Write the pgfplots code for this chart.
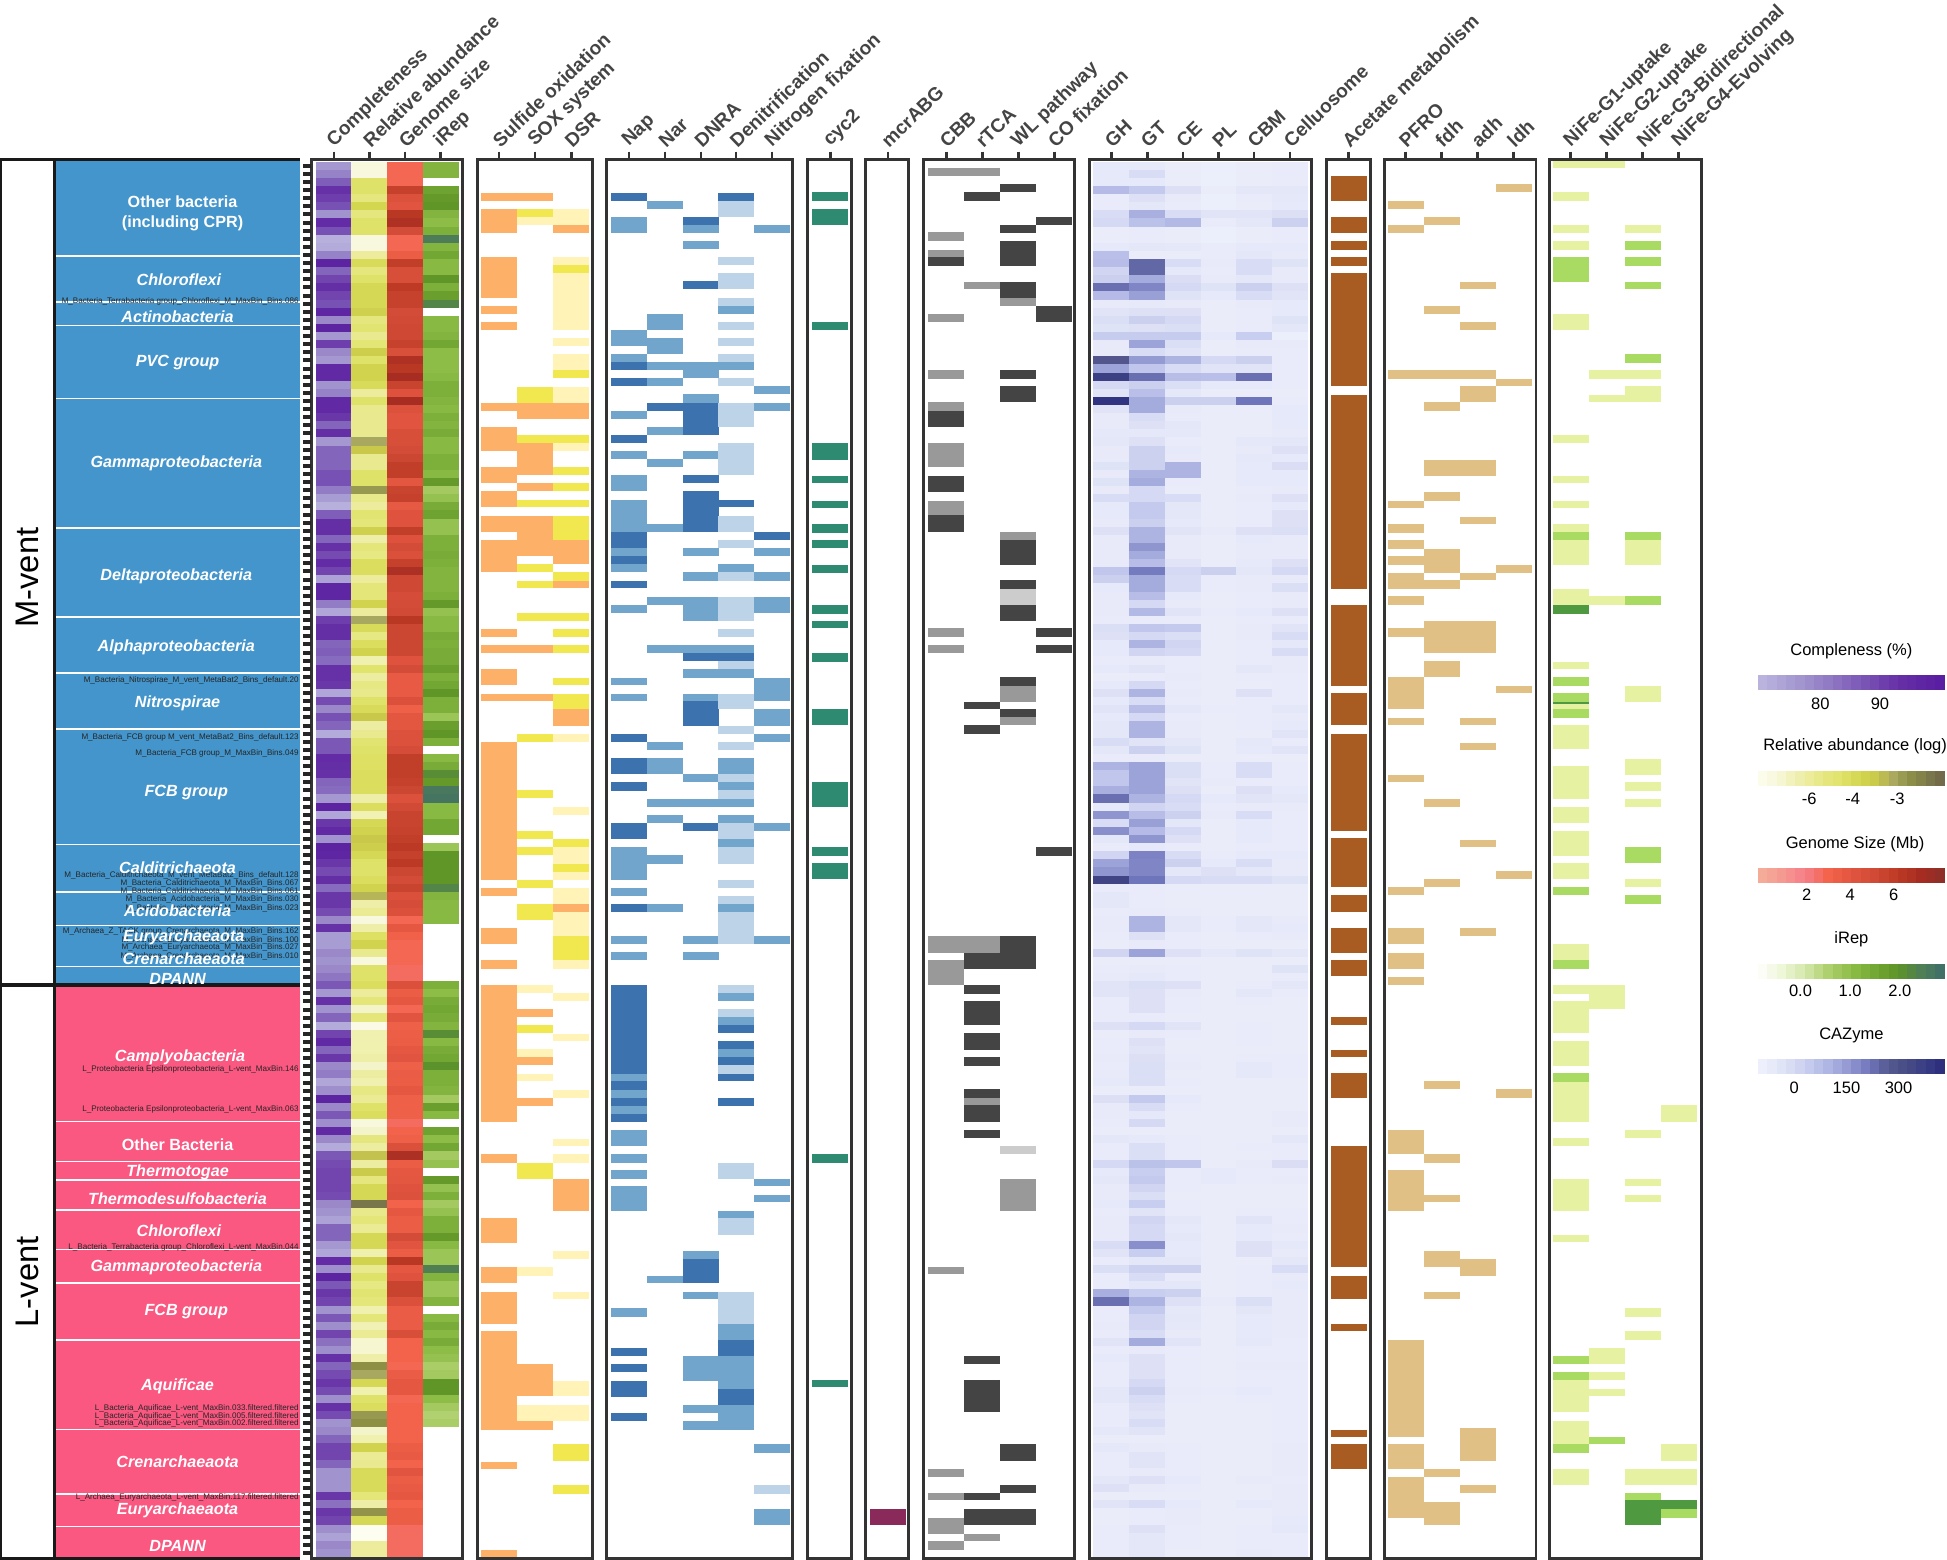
\documentclass[border=0pt]{standalone}
\usepackage{fontspec}
\setmainfont{Liberation Sans}
\usepackage{pgfplots}
\usepackage{pgfplotstable}
\pgfplotsset{compat=1.18}

% colours of the sparse columns
\definecolor{sor}{HTML}{FDB068}\definecolor{syl}{HTML}{F0E84E}\definecolor{spl}{HTML}{FFF3B8}
\definecolor{nd}{HTML}{3C72AE}\definecolor{nm}{HTML}{72A5CB}\definecolor{np}{HTML}{BDD3E7}
\definecolor{cyc}{HTML}{2F8A72}\definecolor{mcr}{HTML}{8A2A5A}
\definecolor{cd}{HTML}{444444}\definecolor{cm}{HTML}{999999}\definecolor{cp}{HTML}{CCCCCC}
\definecolor{ace}{HTML}{A85C22}\definecolor{tan}{HTML}{E0C085}
\definecolor{hl}{HTML}{E6F2A2}\definecolor{hm}{HTML}{A9DA62}\definecolor{hd}{HTML}{4F9A40}
\definecolor{mblue}{HTML}{4495CB}\definecolor{lpink}{HTML}{FA5781}
\definecolor{frame}{HTML}{333333}\definecolor{htxt}{HTML}{444444}

% heat map cells
\pgfdeclareplotmark{cell}{\pgfpathrectanglecorners{\pgfpoint{-\pgfplotmarksize}{-0.0415cm}}{\pgfpoint{\pgfplotmarksize}{0.0415cm}}\pgfusepathqfill}
\pgfdeclareplotmark{barcell}{\pgfpathrectanglecorners{\pgfpoint{-\pgfplotmarksize}{-0.075cm}}{\pgfpoint{\pgfplotmarksize}{0.075cm}}\pgfusepathqfill}
\pgfdeclareplotmark{rowtick}{\pgfpathrectanglecorners{\pgfpoint{-0.04cm}{-0.02cm}}{\pgfpoint{0.04cm}{0.02cm}}\pgfusepathqfill}

\pgfplotsset{
  colormap={cmC}{rgb255=(188,183,224) rgb255=(160,146,205) rgb255=(130,99,187) rgb255=(102,48,166) rgb255=(88,28,160)},
  colormap={cmA}{rgb255=(253,253,240) rgb255=(248,248,223) rgb255=(242,242,188) rgb255=(236,236,156) rgb255=(229,231,126) rgb255=(223,226,104) rgb255=(211,214,79) rgb255=(201,200,74) rgb255=(169,168,96) rgb255=(141,143,69) rgb255=(125,122,76) rgb255=(110,100,72)},
  colormap={cmG}{rgb255=(244,176,154) rgb255=(245,154,144) rgb255=(245,128,138) rgb255=(244,100,76) rgb255=(226,85,63) rgb255=(208,74,53) rgb255=(189,58,37) rgb255=(166,44,34) rgb255=(138,47,42)},
  colormap={cmI}{rgb255=(255,255,255) rgb255=(238,247,216) rgb255=(213,232,172) rgb255=(175,208,110) rgb255=(141,189,71) rgb255=(116,168,52) rgb255=(94,148,39) rgb255=(79,127,85) rgb255=(61,109,106)},
  colormap={cmZ}{rgb255=(240,242,253) rgb255=(228,231,248) rgb255=(213,217,243) rgb255=(192,198,236) rgb255=(169,176,224) rgb255=(143,149,207) rgb255=(111,117,187) rgb255=(84,89,143) rgb255=(72,76,133) rgb255=(56,60,132) rgb255=(42,44,124)},
  seg/.style={forget plot,draw=none,mark=none,error bars/y dir=plus,error bars/y explicit,error bars/error mark=none,error bars/error bar style={line width=.36cm,draw=#1,solid}},
}

% one row per genome: C completeness, A log abundance, G genome size, I iRep (-0.9 = none),
% then the six CAZyme classes as colour levels 0-100
\pgfplotstableread{
C A G I H T E P B L
76 -7 3 1.2 8 8 5 4 5 6
80 -7 3 1.2 8 18 5 4 5 6
86 -5 3 -0.9 8 8 5 4 5 6
93 -5 5.8 1.6 35 28 15 5 10 10
91 -5.5 4.5 1.8 6 14 7 4 6 9
88 -4.5 4.2 1.9 6 10 6 4 5 8
77 -5.5 6.4 1.2 18 40 18 12 12 15
95 -5 6.9 1 20 32 36 6 10 24
88 -5 5 1.3 5 6 5 4 5 6
71 -7 3 2.5 5 6 5 4 5 6
72 -7 3 1.2 8 10 9 6 8 8
80 -6 3.6 1.5 33 5 5 6 10 7
98 -4.7 6 1.1 34 65 18 7 18 13
85 -5.5 4.8 1.1 22 65 9 6 18 7
90 -5 4.8 1.9 25 42 17 7 10 7
94 -4.6 6.2 1.3 62 55 20 13 25 14
90 -4.6 5.7 1.7 35 46 13 8 18 12
88 -4.6 5.7 2.3 7 8 7 5 7 8
97 -4.3 5 -0.9 12 14 14 5 6 8
79 -5.5 5.2 1.1 16 25 20 5 6 13
98 -5.2 5.3 1.1 13 14 16 5 6 10
76 -5.8 5.3 1.2 27 27 27 8 26 4
91 -5.3 5.7 1.5 7 45 16 5 7 7
79 -4.2 4.7 1 7 18 12 5 6 6
76 -5 6.9 1 72 48 38 20 25 6
96 -4.4 6.4 1 45 30 18 12 12 6
96 -4.4 7.2 1.1 88 62 34 33 62 6
77 -4.7 5.6 1.3 20 25 16 8 8 6
80 -6 4.4 1.3 12 33 9 5 5 5
96 -5 7.2 1.2 95 42 25 25 60 6
96 -5.8 4.5 1.1 12 42 7 5 5 8
92 -5.8 4.2 1.3 7 18 6 5 5 8
85 -5.8 4.2 1.2 7 14 10 5 5 8
94 -5.8 4.8 1.4 9 9 9 5 5 7
76 -3.5 4.8 1.1 10 14 6 5 9 10
85 -4 5 1.1 7 24 8 5 7 14
85 -5.8 5.4 1.3 7 24 7 5 9 8
85 -5.8 6 1.3 13 24 38 5 8 17
88 -5 6 1.1 7 38 38 5 8 8
88 -5 4.1 1.8 13 42 6 5 8 8
81 -3.2 5.6 0.7 7 20 5 5 6 7
75 -5.7 5.8 0.9 18 20 18 5 7 14
71 -6 3.9 1.4 8 28 10 5 6 8
86 -5.2 4.3 1.6 8 28 10 5 6 14
94 -5.4 4.3 0.9 7 25 8 5 6 14
94 -4.3 6 0.9 14 38 12 7 14 16
85 -6.2 4.4 1.3 7 38 7 5 8 7
93 -5.4 5 1.3 7 50 7 5 7 7
89 -5.6 4.6 1.4 7 42 7 5 7 7
95 -4.8 5.8 1.3 7 34 12 5 8 14
90 -4.8 7 1.2 30 58 20 25 10 20
74 -6 5.3 1.2 25 42 18 6 7 7
97 -5.4 5.3 1.2 8 42 18 6 7 16
97 -5.4 4.9 1.3 7 34 8 5 6 7
81 -4.4 5 1.8 7 20 7 5 6 7
73 -6 5.2 0.9 7 36 12 6 8 14
91 -3.5 6.4 1.1 6 6 6 5 6 6
94 -4.7 5.4 1.1 16 30 28 5 7 12
94 -5.6 5.4 1.4 14 20 16 5 7 18
85 -4.8 5.4 1.3 8 38 22 5 6 9
86 -4.4 5.4 1.4 8 22 20 5 6 18
84 -6.3 4.3 1.4 6 7 6 5 6 7
93 -5.1 5 1.7 8 12 6 5 10 7
93 -6.1 3.8 1.3 5 6 7 5 6 6
92 -5.6 3.8 1.5 8 20 6 5 5 6
73 -5.7 3.8 1.9 14 38 7 5 14 6
89 -5 4.6 1.3 8 18 6 5 6 6
79 -4.7 3.4 1.3 12 34 10 6 6 10
88 -4 4.1 0.8 8 20 6 5 6 7
85 -6.1 4.1 1.7 10 38 7 5 6 8
72 -5.8 4.5 1.9 10 38 7 5 5 12
87 -5.2 4.5 1.3 18 12 10 5 9 6
87 -5 4.9 -0.9 10 24 13 5 8 12
95 -4.9 6 1.1 6 6 5 5 5 5
94 -4.9 6 1.4 38 45 16 6 18 6
93 -4.8 6 2.1 30 45 16 6 18 6
85 -4.8 5.8 1.8 30 45 12 7 6 6
84 -4.8 5.4 2.6 40 45 15 5 15 8
76 -6.2 4.5 2.7 62 38 20 8 12 10
98 -4.8 5.2 1.1 8 22 18 6 7 7
73 -6.4 5.6 1.1 50 34 24 7 18 6
92 -4.6 5.6 1.5 18 46 10 5 8 6
96 -4.4 5.7 1.5 52 35 20 5 8 6
77 -4 6 -0.9 10 50 14 5 8 6
98 -4.2 6.3 0.8 6 8 6 5 6 6
97 -4.6 5.8 1.9 22 56 18 6 8 8
92 -5 6.3 1.9 45 55 24 8 18 7
89 -5 5.4 1.9 50 55 10 14 10 7
94 -4.8 5 1.9 85 60 20 18 18 13
84 -4.4 5.6 2.3 6 6 5 5 5 5
92 -3.7 4.6 1.2 10 6 5 5 5 5
92 -6.2 4.9 1.1 10 6 5 5 5 5
89 -5.9 4.6 1.1 6 7 6 5 5 5
79 -7 3 1.1 7 38 10 6 10 7
93 -6.2 4 -0.9 7 38 10 6 10 8
75 -4.9 3.3 -0.9 6 14 6 5 6 7
75 -4.4 3 -0.9 5 7 6 5 5 5
79 -5.8 3 -0.9 22 45 14 9 13 10
77 -7 3 -0.9 5 5 5 5 5 5
79 -5 2.8 -0.9 6 7 6 5 5 13
82 -5 2.8 -0.9 7 9 6 5 5 6
87 -4.8 4.6 1.3 12 16 14 5 6 10
76 -6 3.6 1 12 14 7 5 10 6
93 -5.4 4 1.4 6 14 6 5 6 5
77 -6.7 3 1.5 6 14 6 5 5 5
85 -5.4 4.2 1.4 6 6 5 5 5 5
72 -7.2 3.4 1.2 14 20 12 5 6 5
90 -6.3 3.5 2.1 5 7 6 5 6 5
96 -6.3 3.6 1.1 6 14 5 5 6 5
85 -6.3 4 1.4 6 12 5 5 5 5
92 -6.2 4.2 1.5 7 15 6 5 6 6
79 -6.7 3.4 2 6 16 7 5 9 6
81 -6.1 3.7 1.3 7 16 5 5 9 6
73 -6.3 3.6 1.3 8 16 6 5 5 5
78 -5.6 4 1.2 5 5 5 5 5 5
98 -5.9 3.4 0.7 15 28 8 5 5 5
79 -5 3.4 1.7 7 18 6 5 5 5
87 -4.8 3.4 1.1 7 9 5 5 5 7
78 -7 2.8 -0.9 6 20 5 5 5 7
96 -6.7 3.2 1.6 5 5 5 5 5 5
79 -5.5 3.4 1 10 8 6 5 5 10
72 -6.1 4.6 1.5 6 16 6 5 6 6
87 -3.9 7 0.7 6 16 6 5 5 6
89 -6.1 3.6 0.9 20 32 30 5 7 17
90 -4.1 4 -0.9 8 26 6 8 6 6
90 -5.5 4.1 1.8 10 28 6 8 6 7
90 -4.6 4.3 0.9 7 22 6 5 5 5
89 -4.6 4.5 1.3 7 16 5 5 5 5
79 -2.4 3.2 0.7 8 26 6 5 5 5
77 -5.7 4 0.9 6 12 6 5 6 6
74 -5.4 3.6 1.3 7 22 10 5 12 6
85 -5.9 3.6 1.3 7 20 8 5 8 7
85 -4.6 5 1.8 7 20 10 5 8 6
76 -4.6 4.2 1.1 18 52 8 5 14 9
73 -6.3 3.6 0.8 12 26 8 5 14 7
95 -4.4 6.4 0.8 6 10 10 5 5 10
78 -5.8 4 2.4 16 24 24 5 6 18
98 -5 4.3 1.2 6 18 6 5 6 7
87 -5.6 5.6 0.8 6 10 10 5 6 8
92 -5.2 5.6 0.8 40 26 24 5 6 7
90 -5.4 4.6 1.2 62 38 14 7 16 7
77 -6.3 3.7 -0.9 6 28 9 5 11 7
87 -5.4 3.7 1.1 6 22 10 5 8 7
78 -6.4 3.7 1.4 7 22 9 5 8 7
90 -5.9 4.8 1.1 6 18 7 5 8 7
83 -6.8 3.2 1.4 12 42 12 5 9 6
78 -6.8 3.2 1 6 7 6 5 6 6
93 -6.2 3.2 0.9 8 14 6 5 6 6
85 -3 3 0.6 6 14 6 5 7 7
89 -3.5 3.7 0.7 6 14 6 5 6 6
92 -4.6 4 1.9 6 20 6 5 6 6
89 -6.3 4 1.9 10 24 7 6 8 6
78 -5 3 1 10 18 6 5 6 6
93 -4.8 3.2 0.7 6 14 5 5 5 6
89 -3.2 3.2 0.5 6 12 5 5 5 6
77 -3 3.2 0.6 6 18 5 5 5 6
79 -6.7 3.2 -0.9 9 12 5 5 5 6
85 -6.3 3.2 -0.9 5 5 5 5 5 6
90 -4.4 3.6 -0.9 9 7 6 5 5 7
90 -5.9 3.8 -0.9 6 12 6 5 5 7
85 -5.8 3.2 -0.9 6 12 6 5 5 7
77 -4.7 4.2 -0.9 6 7 6 5 5 7
77 -4.7 3.6 -0.9 10 14 8 5 7 6
77 -4.7 3.8 -0.9 14 7 6 5 5 7
92 -5.4 4 -0.9 5 5 5 5 5 7
83 -6.2 3.2 -0.9 12 18 8 5 8 7
92 -3.1 3.6 -0.9 5 6 7 5 5 7
90 -4.6 3.6 -0.9 5 6 7 5 5 8
78 -7.5 2.8 -0.9 6 14 6 5 6 9
74 -7.5 2.8 -0.9 6 10 6 5 6 6
79 -6 2.8 -0.9 6 10 6 5 6 6
77 -6 2.8 -0.9 6 10 5 5 7 6
}\dat

\pgfplotstableread{
p x
0.025 1419.75
0.075 1427.25
0.125 1434.75
0.175 1442.25
0.225 1449.75
0.275 1457.25
0.325 1464.75
0.375 1472.25
0.425 1479.75
0.475 1487.25
0.525 1494.75
0.575 1502.25
0.625 1509.75
0.675 1517.25
0.725 1524.75
0.775 1532.25
0.825 1539.75
0.875 1547.25
0.925 1554.75
0.975 1562.25
}\barscale

% #1 x, #2 half width, #3 column, #4 colormap, #5 low end, #6 range
\newcommand\dense[6]{\addplot[forget plot,scatter,only marks,mark=cell,mark size=#2,colormap name=#4,point meta={(\thisrow{#3}-(#5))/(#6)}] table[x expr=#1,y expr=130.2+6.532*(\coordindex+0.5)] {\dat};}
% #1 x, #2 colour, #3 y intervals
\newcommand\seg[3]{\addplot[seg=#2] table[row sep=\\,x expr=#1,y=a,y error expr=\thisrow{b}-\thisrow{a}]{a b\\#3\\};}
% colour scale: #1 y, #2 colormap
\newcommand\cbar[2]{\addplot[forget plot,scatter,only marks,mark=barcell,mark size=0.048cm,colormap name=#2,point meta=\thisrow{p}] table[x=x,y expr=#1] {\barscale};}
% column header: tick and rotated name
\newcommand\hd[2]{\draw[frame,line width=.75pt] (axis cs:#1,122) -- (axis cs:#1,128);
  \node[rotate=44,anchor=west,inner sep=0pt,text=htxt,font=\fontsize{5.45}{6}\selectfont\bfseries] at (axis cs:#1-3,116) {#2};}
\newcommand\grp[3]{\node[text=white,font=\fontsize{4.6}{5}\selectfont\bfseries\itshape] at (axis cs:#1,#2+1) {#3};}
\newcommand\grpn[3]{\node[text=white,font=\fontsize{4.6}{5.6}\selectfont\bfseries,align=center] at (axis cs:#1,#2+1) {#3};}
\newcommand\bin[2]{\node[anchor=east,inner sep=0pt,text=black!85,font=\fontsize{2.3}{2.6}\selectfont] at (axis cs:241,#1) {#2};}
\newcommand\panel[2]{\draw[frame,line width=.85pt] (axis cs:#1,128.5) rectangle (axis cs:#2,1254.5);}
\newcommand\lt[3]{\node[font=\fontsize{4.7}{5}\selectfont] at (axis cs:#1,#2+1.5) {#3};}

\begin{document}
\begin{tikzpicture}
\begin{axis}[
  scale only axis,width=19.47cm,height=15.6cm,
  xmin=0,xmax=1568,ymin=0,ymax=1256,y dir=reverse,
  hide axis,clip=false,
  point meta min=0,point meta max=1,
]
% side strips
\addplot[forget plot,fill=mblue,draw=none] coordinates {(45,128)(242,128)(242,793)(45,793)} -- cycle;
\addplot[forget plot,fill=lpink,draw=none] coordinates {(45,793)(242,793)(242,1254)(45,1254)} -- cycle;
% group separators
\addplot[forget plot,white,line width=.45pt,unbounded coords=jump] table[row sep=\\,x=x,y=y]{x y\\
45 206\\242 206\\nan nan\\45 243\\242 243\\nan nan\\45 262\\242 262\\nan nan\\45 321\\242 321\\nan nan\\45 425\\242 425\\nan nan\\45 497\\242 497\\nan nan\\45 542\\242 542\\nan nan\\45 587\\242 587\\nan nan\\45 680\\242 680\\nan nan\\45 718\\242 718\\nan nan\\45 745\\242 745\\nan nan\\45 778\\242 778\\nan nan\\
45 903\\242 903\\nan nan\\45 935\\242 935\\nan nan\\45 950\\242 950\\nan nan\\45 974\\242 974\\nan nan\\45 1006\\242 1006\\nan nan\\45 1033\\242 1033\\nan nan\\45 1079\\242 1079\\nan nan\\45 1151\\242 1151\\nan nan\\45 1203\\242 1203\\nan nan\\45 1229\\242 1229\\};
% row ticks
\addplot[forget plot,only marks,mark=rowtick,black!85,mark options={fill=black!85}] table[x expr=247,y expr=130.2+6.532*(\coordindex+0.5)] {\dat};

% dense columns
\dense{269}{.181cm}{C}{cmC}{69.5}{31.5}
\dense{297.6}{.181cm}{A}{cmA}{-7.5}{5.5}
\dense{326.2}{.181cm}{G}{cmG}{0}{8.3}
\dense{355}{.181cm}{I}{cmI}{-0.9}{3.8}
\dense{895}{.181cm}{H}{cmZ}{0}{100}
\dense{924}{.181cm}{T}{cmZ}{0}{100}
\dense{952.6}{.181cm}{E}{cmZ}{0}{100}
\dense{981.5}{.181cm}{P}{cmZ}{0}{100}
\dense{1010}{.181cm}{B}{cmZ}{0}{100}
\dense{1039}{.181cm}{L}{cmZ}{0}{100}

% sulfur
\seg{402}{sor}{155.2 161.6\\168 187.4\\207.2 239.7\\246.2 252.6\\259 265.5\\324.5 330.7\\343.9 363.2\\376.4 389.2\\395.7 408.6\\415.3 428.2\\434.9 460.7\\506.6 512.7\\519.3 525.6\\539 551.6\\558.4 564.8\\597.3 708.2\\714.9 721.3\\747.3 760.2\\773.1 779.8\\793 903.3\\929 936\\981 1001\\1020 1033\\1040 1066\\1072 1151\\1177 1183\\1248 1254}
\seg{431}{sor}{155.2 161.6\\324.3 337.2\\356.8 382.8\\389.2 395.7\\415.3 447.8\\519.3 525.6\\558.4 564.8\\812.3 818.7\\851.2 857.7\\884 890.4\\1098 1124\\1144 1151}
\seg{431}{syl}{168 174.5\\311.4 324.3\\350.3 356.8\\402.4 408.6\\454.2 460.7\\467.6 473.8\\493.4 499.9\\590.8 597.3\\636.2 642.9\\669 675.4\\681.8 688.6\\708.2 714.6\\727.5 740.9\\825.2 831.6\\936 949}
\seg{431}{spl}{174.5 181\\793 799.4\\844.8 851.2\\864.4 870.5\\1020 1027\\1131 1144}
\seg{460}{sor}{181 187.4\\324.3 337.2\\434.9 454.2\\467.4 473.8\\571.2 584.4\\727.5 734.2\\949 975}
\seg{460}{syl}{213.7 220.1\\298 304.7\\350.3 356.8\\376.4 382.8\\389.2 395.7\\402.4 408.6\\415.3 434.9\\460.7 467.4\\493.4 499.9\\506.6 512.7\\519.3 525.6\\545.5 551.6\\558.4 571.2\\675.4 681.8\\695.3 702\\753.8 773.1\\1163 1176\\1196 1203}
\seg{460}{spl}{168 181\\207.2 213.7\\220.1 265.5\\272.2 278.6\\285.1 298\\311.4 324.3\\356.8 363.2\\590.8 597.3\\649.6 656\\681.8 695.3\\702 708.2\\714.9 727.5\\734.2 753.8\\773.1 779.8\\799.4 805.9\\832.2 838.3\\877.8 884\\916.7 923\\929 936\\1007 1014\\1040 1046\\1112 1124\\1131 1144}
% nitrogen
\seg{506.6}{nd}{155.2 161.6\\291.5 298\\304.7 311.1\\350.3 356.8\\428.2 441.3\\447.8 454.2\\467.4 473.8\\590.8 597.3\\610.4 623.3\\630 636.5\\662.5 675.4\\727.5 734.2\\793 864.4\\870.5 877.8\\884 890.4\\896.6 903.3\\1085 1092\\1098 1105\\1112 1125\\1138 1144}
\seg{506.6}{nm}{174.5 187.4\\265.8 278.6\\285.1 291.5\\330.7 337.2\\363.2 369.7\\382.8 395.7\\402.4 428.2\\441.3 447.8\\454.2 460.7\\487 493.4\\545.5 551.6\\558.4 564.8\\681.8 708.2\\714.9 721.3\\753.8 760.2\\766.7 773.1\\864.4 870.5\\877.8 884\\890.4 896.6\\910 923\\929 936\\942 949\\955 975\\1053 1060}
\seg{535.6}{nd}{324.3 330.7}
\seg{535.6}{nm}{161.6 168\\252.6 265.5\\272.2 285.1\\291.5 298\\304.7 311.1\\343.9 350.3\\369.7 376.1\\421.7 428.2\\480.5 487\\519.2 525.6\\597.3 604\\610.4 623.3\\643 649.4\\656 662.5\\688.6 695.3\\727.5 734.2\\1027 1033}
\seg{564.5}{nd}{174.5 181\\226.6 233\\324.3 350.3\\382.8 389.2\\395.7 428.2\\525.6 532\\564.8 584.4\\662.5 669\\1014 1033}
\seg{564.5}{nm}{181 187.4\\194.1 200.5\\291.5 304.7\\317.6 324.3\\363.2 369.7\\441.3 447.8\\460.7 467.4\\480.5 499.9\\519.2 525.6\\539 545.5\\558.4 564.8\\623.3 629.8\\643 649.4\\753.8 760.2\\766.7 773.1\\1007 1014\\1040 1046\\1092 1112\\1131 1138\\1144 1151}
\seg{592.8}{nd}{155.2 161.6\\402.4 408.6\\525.6 532\\825.2 831.6\\838.3 844.8\\851.2 857.7\\864.4 870.5\\884 890.4\\1079 1092\\1118 1131}
\seg{592.8}{nm}{246.2 252.6\\291.5 298\\454.2 460.7\\519.2 525.6\\539 545.5\\610.4 623.3\\629.8 636.2\\643 649.4\\656 662.5\\675.4 681.8\\727.5 734.2\\799.4 805.9\\818.7 825.2\\844.8 851.2\\975 981\\1066 1079\\1092 1118\\1131 1151}
\seg{592.8}{np}{161.6 174.5\\207.2 213.7\\220.1 233\\239.7 246.2\\259 265.5\\272.2 278.6\\285.1 291.5\\304.7 311.1\\324.3 343.6\\356.8 382.8\\415.3 428.2\\434.9 441.3\\460.7 467.4\\480.5 499.9\\506.6 512.7\\532 539\\558.4 571.2\\584.4 590.8\\597.3 604\\623.3 629.8\\636.2 643\\662.5 675.4\\681.8 695.3\\708.2 714.6\\721.3 727.5\\734.2 760.2\\793 799.4\\812.3 818.7\\857.7 864.4\\936 949\\981 994\\1040 1066}
\seg{621.7}{nd}{428.2 434.9}
\seg{621.7}{nm}{181 187.4\\311.1 317.6\\324.3 330.7\\441.3 447.8\\460.7 467.4\\480.5 493.4\\545.5 564.8\\571.2 584.4\\590.8 597.3\\662.5 669\\753.8 760.2\\949 955\\962 968\\1163 1170\\1215 1228}
\seg{621.7}{np}{1196 1203}
% cyc2, mcrABG
\seg{668.6}{cyc}{155 162\\168 181\\259 266\\357 370\\383 389\\403 409\\422 429\\435 441\\455 461\\487 494\\500 506\\526 533\\571 584\\630 650\\682 689\\695 708\\929 936\\1111 1117}
\seg{715}{mcr}{1215 1228}
% carbon fixation
\seg{762}{cm}{135 142\\187 194\\201 207\\253 259\\298 305\\324 331\\357 376\\403 415\\506 513\\519 526\\754 767\\773 793\\1020 1026\\1183 1189\\1202 1208\\1222 1235\\1241 1248}
\seg{762}{cd}{207 214\\331 344\\383 396\\415 428}
\seg{791}{cm}{135 142\\227 233\\754 767\\884 890\\1235 1241}
\seg{791}{cd}{155 162\\565 571\\584 591\\767 780\\793 800\\806 825\\832 845\\851 858\\877 884\\890 903\\910 916\\1092 1098\\1111 1137\\1202 1208\\1215 1228}
\seg{820}{cd}{148 155\\181 188\\194 214\\227 240\\298 305\\311 324\\435 455\\467 474\\487 500\\545 552\\571 577\\754 780\\1163 1176\\1196 1202\\1215 1228}
\seg{820}{cm}{240 246\\428 435\\552 565\\577 584\\949 975}
\seg{820}{cp}{474 487\\923 929}
\seg{849}{cd}{175 181\\246 259\\506 513\\519 526\\682 689}
% acetate
\seg{1086}{ace}{142 162\\175 188\\194 201\\207 214\\220 311\\318 474\\487 552\\558 584\\591 669\\675 714\\721 734\\747 767\\773 786\\819 825\\845 851\\864 884\\923 1020\\1027 1046\\1066 1072\\1151 1157\\1163 1183}
% energy
\seg{1132}{tan}{162 168\\181 188\\298 305\\403 409\\422 429\\435 442\\448 455\\461 474\\480 487\\506 513\\545 571\\578 584\\624 630\\714 721\\747 760\\767 780\\787 793\\910 929\\942 975\\1079 1157\\1163 1183\\1189 1222}
\seg{1161}{tan}{175 181\\246 253\\298 305\\324 331\\370 383\\396 403\\442 461\\467 474\\500 526\\532 545\\643 650\\708 714\\870 877\\929 936\\962 968\\1007 1020\\1040 1046\\1183 1189\\1209 1228}
\seg{1190}{tan}{227 233\\259 266\\298 305\\311 324\\370 383\\416 422\\461 467\\500 526\\578 584\\598 604\\676 682\\747 754\\1014 1027\\1150 1176\\1196 1202}
\seg{1219}{tan}{148 155\\305 311\\455 461\\552 558\\701 708\\877 884}
% hydrogenases
\seg{1265}{hl}{129 135\\155 162\\181 188\\194 201\\253 266\\350 357\\383 389\\403 409\\422 428\\435 455\\474 487\\533 539\\565 571\\584 603\\617 643\\650 663\\669 689\\695 708\\760 773\\793 800\\806 832\\838 858\\871 903\\916 923\\949 975\\994 1000\\1111 1137\\1144 1163\\1183 1196}
\seg{1265}{hm}{207 227\\428 435\\545 552\\558 565\\571 578\\714 721\\773 780\\864 871\\1092 1098\\1105 1111\\1163 1170}
\seg{1265}{hd}{487 494\\565 567}
\seg{1294}{hl}{129 135\\298 305\\318 324\\480 487\\793 812\\1085 1098\\1105 1111\\1118 1124}
\seg{1294}{hm}{1157 1163}
\seg{1323}{hl}{181 188\\298 305\\311 324\\435 455\\552 565\\611 624\\630 637\\643 650\\708 714\\910 916\\949 955\\962 968\\1053 1060\\1072 1079\\1183 1196}
\seg{1323}{hm}{194 201\\207 214\\227 233\\285 292\\428 435\\480 487\\682 695\\721 728\\1202 1208}
\seg{1323}{hd}{1208 1228}
\seg{1352}{hl}{890 903\\1163 1176\\1183 1196}
\seg{1352}{hd}{1208 1215}
\seg{1352}{hm}{1215 1222}

% colour scales
\cbar{549.6}{cmC}
\cbar{626.5}{cmA}
\cbar{704.5}{cmG}
\cbar{782}{cmI}
\cbar{858.5}{cmZ}

% frames
\panel{251}{372.5}\panel{384.5}{477}\panel{488.6}{638.6}\panel{650.4}{685.4}\panel{697}{732}\panel{744}{865}
\panel{877.8}{1056.4}\panel{1068.4}{1103.5}\panel{1115}{1237}\panel{1248}{1370}

\draw[black!90,line width=.9pt] (axis cs:0.6,128.5) rectangle (axis cs:44,793);
\draw[black!90,line width=.9pt] (axis cs:0.6,793) rectangle (axis cs:44,1254.5);
\draw[black!90,line width=.9pt] (axis cs:44,128.5) -- (axis cs:242,128.5);
\draw[black!90,line width=.9pt] (axis cs:44,793) -- (axis cs:242,793);
\draw[black!90,line width=.9pt] (axis cs:44,1254.5) -- (axis cs:242,1254.5);
\node[rotate=90,font=\fontsize{9.3}{10}\selectfont] at (axis cs:22,465) {M-vent};
\node[rotate=90,font=\fontsize{9.3}{10}\selectfont] at (axis cs:22,1032) {L-vent};

% genome bins named on the strip
\bin{243}{M\_Bacteria\_Terrabacteria group\_Chloroflexi\_M\_MaxBin\_Bins.086}
\bin{548}{M\_Bacteria\_Nitrospirae\_M\_vent\_MetaBat2\_Bins\_default.20}
\bin{594}{M\_Bacteria\_FCB group M\_vent\_MetaBat2\_Bins\_default.123}
\bin{607}{M\_Bacteria\_FCB group\_M\_MaxBin\_Bins.049}
\bin{705}{M\_Bacteria\_Calditrichaeota\_M\_vent\_MetaBat2\_Bins\_default.128}
\bin{711}{M\_Bacteria\_Calditrichaeota\_M\_MaxBin\_Bins.067}
\bin{718}{M\_Bacteria\_Calditrichaeota\_M\_MaxBin\_Bins.061}
\bin{724}{M\_Bacteria\_Acidobacteria\_M\_MaxBin\_Bins.030}
\bin{731}{M\_Bacteria\_Acidobacteria\_M\_MaxBin\_Bins.023}
\bin{750}{M\_Archaea\_Z\_TACK group\_Crenarchaeota\_M\_MaxBin\_Bins.162}
\bin{757}{M\_Archaea\_Euryarchaeota\_M\_MaxBin\_Bins.100}
\bin{763}{M\_Archaea\_Euryarchaeota\_M\_MaxBin\_Bins.027}
\bin{770}{M\_Archaea\_Crenarchaeota\_M\_MaxBin\_Bins.010}
\bin{861}{L\_Proteobacteria Epsilonproteobacteria\_L-vent\_MaxBin.146}
\bin{893}{L\_Proteobacteria Epsilonproteobacteria\_L-vent\_MaxBin.063}
\bin{1004}{L\_Bacteria\_Terrabacteria group\_Chloroflexi\_L-vent\_MaxBin.044}
\bin{1134}{L\_Bacteria\_Aquificae\_L-vent\_MaxBin.033.filtered.filtered}
\bin{1140}{L\_Bacteria\_Aquificae\_L-vent\_MaxBin.005.filtered.filtered}
\bin{1146}{L\_Bacteria\_Aquificae\_L-vent\_MaxBin.002.filtered.filtered}
\bin{1206}{L\_Archaea\_Euryarchaeota\_L-vent\_MaxBin.117.filtered.filtered}

% group names
\grpn{147}{171}{Other bacteria\\(including CPR)}
\grp{144}{224}{Chloroflexi}
\grp{143}{254}{Actinobacteria}
\grp{143}{291}{PVC group}
\grp{142}{372}{Gammaproteobacteria}
\grp{142}{463}{Deltaproteobacteria}
\grp{142}{520}{Alphaproteobacteria}
\grp{143}{565}{Nitrospirae}
\grp{150}{637}{FCB group}
\grp{143}{698}{Calditrichaeota}
\grp{143}{732}{Acidobacteria}
\grp{148}{754}{Euryarchaeaota}
\grp{148}{771}{Crenarchaeaota}
\grp{143}{787}{DPANN}
\grp{145}{850}{Camplyobacteria}
\grpn{143}{921}{Other Bacteria}
\grp{143}{943}{Thermotogae}
\grp{143}{964}{Thermodesulfobacteria}
\grp{144}{990}{Chloroflexi}
\grp{142}{1019}{Gammaproteobacteria}
\grp{150}{1055}{FCB group}
\grp{143}{1115}{Aquificae}
\grp{143}{1176}{Crenarchaeaota}
\grp{143}{1215}{Euryarchaeaota}
\grp{143}{1244}{DPANN}

% column headers
\hd{269}{Completeness}\hd{297.6}{Relative abundance}\hd{326.2}{Genome size}\hd{355}{iRep}
\hd{402}{Sulfide oxidation}\hd{431}{SOX system}\hd{460}{DSR}
\hd{506.6}{Nap}\hd{535.6}{Nar}\hd{564.5}{DNRA}\hd{592.8}{Denitrification}\hd{621.7}{Nitrogen fixation}
\hd{668.6}{cyc2}\hd{715}{mcrABG}
\hd{762}{CBB}\hd{791}{rTCA}\hd{820}{WL pathway}\hd{849}{CO fixation}
\hd{895}{GH}\hd{924}{GT}\hd{952.6}{CE}\hd{981.5}{PL}\hd{1010}{CBM}\hd{1039}{Celluosome}
\hd{1086}{Acetate metabolism}
\hd{1132}{PFRO}\hd{1161}{fdh}\hd{1190}{adh}\hd{1219}{ldh}
\hd{1265}{NiFe-G1-uptake}\hd{1294}{NiFe-G2-uptake}\hd{1323}{NiFe-G3-Bidirectional}\hd{1352}{NiFe-G4-Evolving}

% legend texts
\lt{1491}{523}{Compleness (\%)}\lt{1466}{565}{80}\lt{1514}{565}{90}
\lt{1494}{599}{Relative abundance (log)}\lt{1457}{642}{-6}\lt{1492}{642}{-4}\lt{1528}{642}{-3}
\lt{1494}{678}{Genome Size (Mb)}\lt{1455}{719}{2}\lt{1490}{719}{4}\lt{1525}{719}{6}
\lt{1491}{755}{iRep}\lt{1450}{796}{0.0}\lt{1490}{796}{1.0}\lt{1530}{796}{2.0}
\lt{1491}{832}{CAZyme}\lt{1445}{874}{0}\lt{1487}{874}{150}\lt{1529}{874}{300}
\end{axis}
\pgfresetboundingbox
\path (0,0) rectangle (19.47,15.6);
\end{tikzpicture}
\end{document}
